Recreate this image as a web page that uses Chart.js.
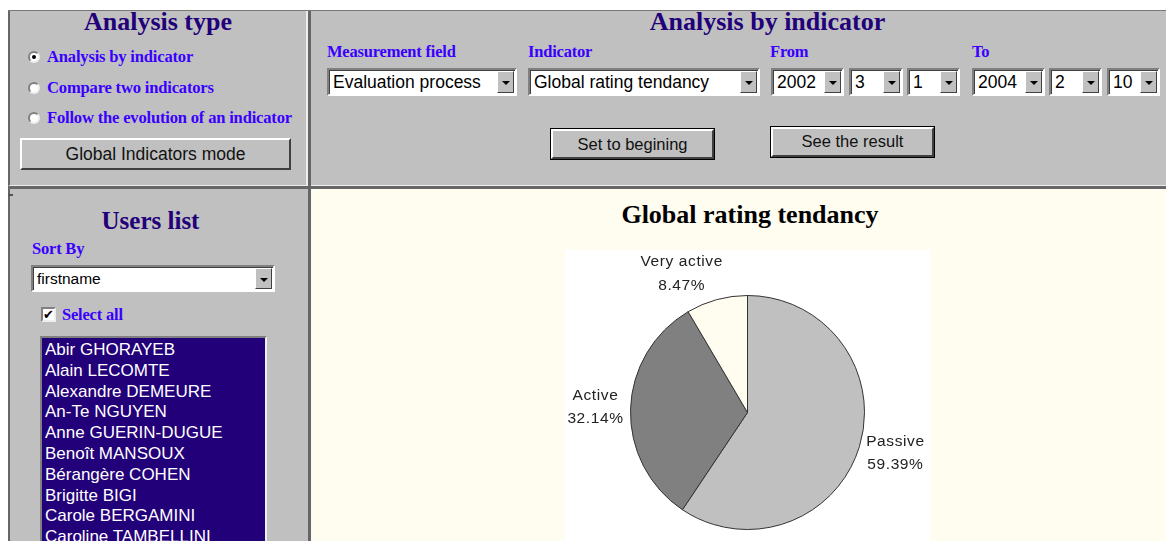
<!DOCTYPE html>
<html><head><meta charset="utf-8">
<script src="https://cdn.jsdelivr.net/npm/chart.js@4/dist/chart.umd.min.js"></script>
<style>
html,body{margin:0;padding:0;width:1166px;height:541px;overflow:hidden;background:#fff;}
.abs{position:absolute;}
.panel{position:absolute;background:#c0c0c0;box-sizing:border-box;}
.serif{font-family:"Liberation Serif","Times New Roman",serif;font-weight:bold;}
.sans{font-family:"Liberation Sans",Arial,sans-serif;}
.h1{color:#22007a;font-size:26px;white-space:nowrap;}
.lbl{color:#3a00ff;font-size:16.5px;white-space:nowrap;letter-spacing:-0.2px;}
.sel{position:absolute;background:#fff;box-sizing:border-box;border:2px solid;border-color:#808080 #fff #fff #808080;box-shadow:inset 1px 1px 0 #404040;}
.sel .txt{position:absolute;left:4px;top:2px;font-family:"Liberation Sans",Arial,sans-serif;font-size:17.5px;color:#000;white-space:nowrap;}
.sel .btn{position:absolute;right:1px;top:1px;bottom:1px;width:17px;background:#c0c0c0;box-sizing:border-box;border:1px solid;border-color:#fff #404040 #404040 #fff;}
.sel .btn:after{content:"";position:absolute;left:4px;top:9px;border-left:4px solid transparent;border-right:4px solid transparent;border-top:4px solid #000;}
.pbtn{position:absolute;background:#c0c0c0;box-sizing:border-box;border:2px solid;border-color:#fff #404040 #404040 #fff;outline:1px solid #000;font-family:"Liberation Sans",Arial,sans-serif;font-size:16.5px;color:#111;text-align:center;}
.radio{position:absolute;width:12px;height:12px;border-radius:50%;background:#fff;box-sizing:border-box;border:2px solid;border-color:#808080 #eee #eee #808080;}
</style></head>
<body>
<div class="abs" style="left:8px;top:10px;width:1158px;height:2px;background:#777;"></div>

<!-- top-left panel -->
<div class="panel" style="left:8px;top:11px;width:300px;height:175px;border-left:2px solid #666;border-right:1px solid #eee;border-bottom:1px solid #eee;"></div>
<div class="abs serif h1" style="left:8px;width:300px;text-align:center;top:7px;">Analysis type</div>

<div class="radio" style="left:28px;top:51px;"><div style="position:absolute;left:2px;top:2px;width:4px;height:4px;border-radius:50%;background:#000;"></div></div>
<div class="abs serif lbl" style="left:47px;top:47px;font-size:16.6px;">Analysis by indicator</div>
<div class="radio" style="left:28px;top:82px;"></div>
<div class="abs serif lbl" style="left:47px;top:78px;font-size:16.6px;">Compare two indicators</div>
<div class="radio" style="left:28px;top:112px;"></div>
<div class="abs serif lbl" style="left:47px;top:108px;font-size:16.6px;">Follow the evolution of an indicator</div>
<div class="pbtn" style="left:20px;top:138px;width:271px;height:32px;outline:none;line-height:28px;font-size:17.5px;">Global Indicators mode</div>

<!-- top-right panel -->
<div class="panel" style="left:308px;top:11px;width:858px;height:175px;border-left:2px solid #666;border-bottom:1px solid #eee;"></div>
<div class="abs serif h1" style="left:310px;width:915px;text-align:center;top:7px;">Analysis by indicator</div>
<div class="abs serif lbl" style="left:327px;top:42px;">Measurement field</div>
<div class="abs serif lbl" style="left:528px;top:42px;">Indicator</div>
<div class="abs serif lbl" style="left:770px;top:42px;">From</div>
<div class="abs serif lbl" style="left:972px;top:42px;">To</div>

<div class="sel" style="left:327px;top:68px;width:190px;height:28px;"><div class="txt">Evaluation process</div><div class="btn"></div></div>
<div class="sel" style="left:528px;top:68px;width:232px;height:28px;"><div class="txt">Global rating tendancy</div><div class="btn"></div></div>
<div class="sel" style="left:771px;top:68px;width:73px;height:28px;"><div class="txt">2002</div><div class="btn"></div></div>
<div class="sel" style="left:849px;top:68px;width:54px;height:28px;"><div class="txt">3</div><div class="btn"></div></div>
<div class="sel" style="left:907px;top:68px;width:53px;height:28px;"><div class="txt">1</div><div class="btn"></div></div>
<div class="sel" style="left:972px;top:68px;width:73px;height:28px;"><div class="txt">2004</div><div class="btn"></div></div>
<div class="sel" style="left:1049px;top:68px;width:53px;height:28px;"><div class="txt">2</div><div class="btn"></div></div>
<div class="sel" style="left:1107px;top:68px;width:53px;height:28px;"><div class="txt">10</div><div class="btn"></div></div>

<div class="pbtn" style="left:551px;top:129px;width:163px;height:30px;line-height:26px;">Set to begining</div>
<div class="pbtn" style="left:771px;top:127px;width:163px;height:30px;line-height:25px;">See the result</div>

<!-- separators -->
<div class="abs" style="left:8px;top:186px;width:1158px;height:3px;background:#666;"></div>
<div class="abs" style="left:308px;top:11px;width:3px;height:530px;background:#666;"></div>
<div class="abs" style="left:306px;top:11px;width:1px;height:175px;background:#eee;"></div>

<!-- bottom-left panel -->
<div class="panel" style="left:8px;top:189px;width:300px;height:352px;border-left:2px solid #666;"></div>
<div class="abs" style="left:8px;top:194px;width:5px;height:2px;background:#555;"></div>
<div class="abs serif h1" style="left:8px;width:285px;text-align:center;top:207px;font-size:25px;">Users list</div>
<div class="abs serif lbl" style="left:32px;top:239px;">Sort By</div>
<div class="sel" style="left:31px;top:265px;width:244px;height:27px;"><div class="txt" style="font-size:15.5px;top:3px;">firstname</div><div class="btn"></div></div>
<div class="abs" style="left:41px;top:307px;width:15px;height:15px;background:#fff;box-sizing:border-box;border:2px solid;border-color:#808080 #eee #eee #808080;">
  <div style="position:absolute;left:0px;top:-2px;font:bold 13px 'DejaVu Sans',sans-serif;color:#000;">✔</div>
</div>
<div class="abs serif lbl" style="left:62px;top:305px;">Select all</div>
<div class="abs" style="left:40px;top:336px;width:227px;height:220px;background:#22007a;box-sizing:border-box;border:2px solid;border-color:#808080 #eee #eee #808080;"></div>
<div id="users" class="abs sans" style="left:45px;top:340px;color:#fff;font-size:17px;line-height:20.8px;white-space:nowrap;"></div>

<!-- bottom-right content -->
<div class="abs" style="left:311px;top:189px;width:855px;height:352px;background:#fffcf0;"></div>
<div class="abs serif" style="left:311px;width:878px;text-align:center;top:200px;font-size:26px;color:#000;">Global rating tendancy</div>
<div class="abs" style="left:565px;top:250px;width:365px;height:325px;background:#fff;">
  <canvas id="pie" width="365" height="325"></canvas>
</div>

<script>
const users = ["Abir GHORAYEB","Alain LECOMTE","Alexandre DEMEURE","An-Te NGUYEN","Anne GUERIN-DUGUE","Benoît MANSOUX","Bérangère COHEN","Brigitte BIGI","Carole BERGAMINI","Caroline TAMBELLINI"];
const categories = ["Passive","Active","Very active"];
const percentages = [59.39, 32.14, 8.47];
const sliceColors = ["#c0c0c0","#808080","#fffcf0"];

document.getElementById('users').innerHTML = users.map(u=>'<div>'+u+'</div>').join('');

const labelPlugin = {
  id:'sliceLabels',
  afterDatasetsDraw(chart){
    const ctx = chart.ctx;
    const meta = chart.getDatasetMeta(0);
    ctx.save();
    ctx.font = '15.5px "Liberation Sans", Arial, sans-serif';
    ctx.letterSpacing = '0.6px';
    ctx.fillStyle = '#222';
    const lh = 23.5;
    meta.data.forEach((arc,i)=>{
      const p = arc.getProps(['x','y','startAngle','endAngle','outerRadius'],true);
      const mid = (p.startAngle+p.endAngle)/2;
      const r = p.outerRadius+7;
      const ax = p.x+Math.cos(mid)*r, ay = p.y+Math.sin(mid)*r;
      const h = Math.cos(mid), v = Math.sin(mid);
      const lines = [categories[i], percentages[i].toFixed(2)+'%'];
      const w = Math.max(...lines.map(t=>ctx.measureText(t).width));
      const left = h>=0 ? ax : ax - w*Math.min(1, 0.85 + Math.abs(h)*0.2);
      ctx.textAlign = 'center';
      ctx.textBaseline = 'middle';
      const yc = ay + v*lh/2*1.6 - 1;
      lines.forEach((t,k)=>{
        ctx.fillText(t, left + w/2, yc + (k-0.5)*lh);
      });
    });
    ctx.restore();
  }
};

new Chart(document.getElementById('pie'),{
  type:'pie',
  data:{labels:categories,datasets:[{data:percentages,backgroundColor:sliceColors,borderColor:'#333',borderWidth:1,radius:117}]},
  options:{responsive:false,animation:false,layout:{padding:0},
    plugins:{legend:{display:false},tooltip:{enabled:false},title:{display:false}}},
  plugins:[labelPlugin]
});
</script>
</body></html>
